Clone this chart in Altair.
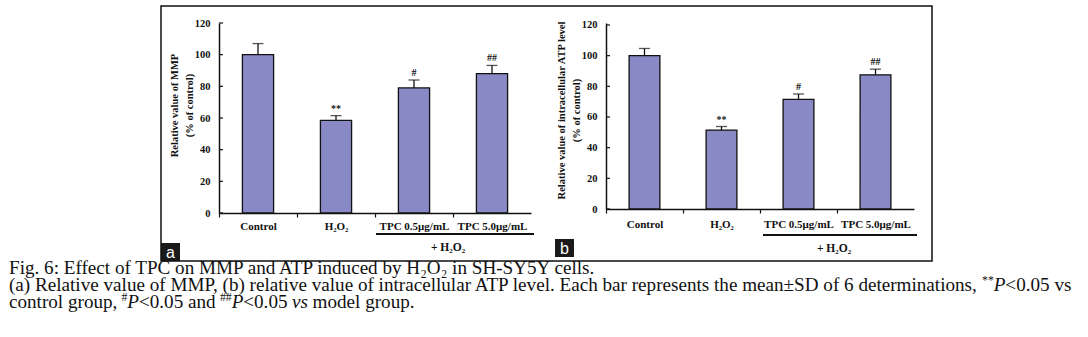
import altair as alt
import pandas as pd

# ---------------- data ----------------
categories = ["Control", "H₂O₂", "TPC 0.5μg/mL", "TPC 5.0μg/mL"]
mmp_mean = [100, 58.5, 79, 88]
mmp_sd = [7, 3, 5, 5.2]
atp_mean = [100, 51.5, 71.5, 87.5]
atp_sd = [4.7, 2.3, 3.5, 3.7]
sig_marks = ["", "**", "#", "##"]
y_ticks = [0, 20, 40, 60, 80, 100, 120]

caption_line1 = "Fig. 6: Effect of TPC on MMP and ATP induced by H₂O₂ in SH-SY5Y cells."
caption_line2 = [
    ("(a) Relative value of MMP, (b) relative value of intracellular ATP level. "
     "Each bar represents the mean±SD of 6 determinations, ", "normal"),
    ("**", "sup"), ("P", "italic"), ("<0.05 vs", "normal")]
caption_line3 = [
    ("control group, ", "normal"), ("#", "sup"), ("P", "italic"),
    ("<0.05 and ", "normal"), ("##", "sup"), ("P", "italic"),
    ("<0.05 ", "normal"), ("vs", "italic"), (" model group.", "normal")]

# ---------------- style ----------------
SERIF = "Liberation Serif"
SANS = "Liberation Sans"
BAR = "#8989C5"
INK = "#111111"

# Times-compatible advance widths (per 1000 em) used to place caption pieces
TR = {' ': 250, '!': 333, '#': 500, '(': 333, ')': 333, '*': 500, '+': 564, ',': 250,
      '-': 333, '.': 250, '/': 278, ':': 278, ';': 278, '<': 564, '=': 564, '>': 564,
      '±': 564}
for d in "0123456789":
    TR[d] = 500
TR.update(dict(zip("ABCDEFGHIJKLMNOPQRSTUVWXYZ",
                   [722, 667, 667, 722, 611, 556, 722, 722, 333, 389, 722, 611, 889,
                    722, 722, 556, 722, 667, 556, 611, 722, 722, 944, 722, 722, 611])))
TR.update(dict(zip("abcdefghijklmnopqrstuvwxyz",
                   [444, 500, 444, 500, 444, 333, 500, 500, 278, 278, 500, 278, 778,
                    500, 500, 500, 500, 333, 389, 278, 500, 500, 722, 500, 500, 444])))
TI = dict(TR)
TI.update({'P': 611, 'v': 444, 's': 389})
FUDGE = 0.993  # rendered width / nominal width

ONE = pd.DataFrame({"k": [0]})


def units(s, table):
    return sum(table.get(c, 500) for c in s) * FUDGE


def piece(s, x, y, size, style="normal", weight="normal", color=INK,
          align="left", baseline="alphabetic", font=SERIF):
    return alt.Chart(ONE).mark_text(
        text=s, font=font, fontSize=size, fontStyle=style, fontWeight=weight,
        color=color, align=align, baseline=baseline
    ).encode(x=alt.value(x), y=alt.value(y))


# caption sizing: line 2 spans the figure width
CAP_X0 = -210
SUP = 0.62
line2_units = 0
for s, kind in caption_line2:
    if kind == "sup":
        line2_units += units(s, TR) * SUP
    elif kind == "italic":
        line2_units += units(s, TI)
    else:
        line2_units += units(s, TR)
CAP_FS = 1062 * 1000 / line2_units


def caption_line(parts, y):
    out = []
    x = CAP_X0
    for s, kind in parts:
        table = TI if kind == "italic" else TR
        size = CAP_FS * SUP if kind == "sup" else CAP_FS
        lead = s[: len(s) - len(s.lstrip(" "))]
        x += units(lead, table) * size / 1000
        body = s.lstrip(" ")
        yy = y - CAP_FS * 0.38 if kind == "sup" else y
        style = "italic" if kind == "italic" else "normal"
        if body:
            out.append(piece(body, x, yy, size, style=style))
        x += units(body, table) * size / 1000
    return out


def panel(means, sds, ydomain, width, height, ytitle, title_y, xlabel_pad,
          letter, box_x, under_y, plus_x, plus_y):
    df = pd.DataFrame({
        "cat": categories,
        "mean": means,
        "upper": [m + s for m, s in zip(means, sds)],
        "sig": sig_marks,
    })
    step = width / len(categories)
    xscale = alt.Scale(domain=categories, paddingInner=0.6, paddingOuter=0.3)
    yscale = alt.Scale(domain=ydomain, nice=False, zero=True)
    xaxis = alt.Axis(
        title=None, labelAngle=0, labelFont=SERIF, labelFontSize=11,
        labelFontWeight="bold", labelColor=INK, labelPadding=xlabel_pad,
        domainColor=INK, domainWidth=1.5, tickColor=INK, tickSize=4,
        tickWidth=1.2, bandPosition=0.5, tickOffset=-step / 2,
        labelOffset=step / 2, grid=False)
    yaxis = alt.Axis(
        title=ytitle, values=y_ticks, titleFont=SERIF, titleFontSize=10.5,
        titleFontWeight="bold", titleColor=INK, titleX=-44.5, titleY=title_y,
        titleBaseline="middle", titleAlign="center", titleLineHeight=15,
        labelFont=SERIF, labelFontSize=10.5, labelFontWeight="bold",
        labelColor=INK, labelPadding=9, tickSize=0, domainColor=INK,
        domainWidth=1.5, grid=False)
    X = alt.X("cat:N", scale=xscale, axis=xaxis, sort=categories)
    base = alt.Chart(df)
    bars = base.mark_bar(fill=BAR, stroke=INK, strokeWidth=1.3).encode(
        x=X, y=alt.Y("mean:Q", scale=yscale, axis=yaxis))
    err = base.mark_rule(color=INK, strokeWidth=1.3).encode(
        x=X, y=alt.Y("mean:Q", scale=yscale, axis=yaxis), y2="upper:Q")
    caps = base.mark_tick(color=INK, thickness=1.3, size=11, orient="horizontal").encode(
        x=X, y=alt.Y("upper:Q", scale=yscale, axis=yaxis))
    stars = base.mark_text(font=SERIF, fontSize=10, fontWeight="bold", color=INK,
                           baseline="bottom", dy=-2).encode(
        x=X, y=alt.Y("upper:Q", scale=yscale, axis=yaxis), text="sig:N")
    ticks = alt.Chart(pd.DataFrame({"v": y_ticks})).mark_rule(
        color=INK, strokeWidth=1.2).encode(
        y=alt.Y("v:Q", scale=yscale, axis=yaxis), x=alt.value(0), x2=alt.value(4))
    under = alt.Chart(ONE).mark_rule(color=INK, strokeWidth=2.2).encode(
        x=alt.value(157), x2=alt.value(width + 3), y=alt.value(under_y))
    plus = piece("+ H₂O₂", plus_x, plus_y, 11.5, weight="bold", align="center",
                 baseline="middle")
    box = alt.Chart(ONE).mark_rect(color="#1a1a1a").encode(
        x=alt.value(box_x), x2=alt.value(box_x + 19), y=alt.value(height + 30),
        y2=alt.value(height + 48))
    let = piece(letter, box_x + 9.5, height + 39.5, 16, color="white", align="center",
                baseline="middle", font=SANS)
    return [bars, err, caps, stars, ticks, under, plus, box, let]


layers_a = panel(mmp_mean, mmp_sd, [0, 120], 312, 190,
                 ["Relative value of MMP", "(% of control)"], 82, 3,
                 "a", -58, 211, 229, 225)
frame = alt.Chart(ONE).mark_rect(fillOpacity=0, stroke=INK, strokeWidth=1.5).encode(
    x=alt.value(-58), x2=alt.value(713), y=alt.value(-17), y2=alt.value(238))
anchor = alt.Chart(ONE).mark_rule(color="white", strokeWidth=0.1).encode(
    x=alt.value(-218), x2=alt.value(860), y=alt.value(-22))
cap = [piece(caption_line1, CAP_X0, 251, CAP_FS)]
cap += caption_line(caption_line2, 268)
cap += caption_line(caption_line3, 285)
panel_a = alt.layer(*layers_a, frame, anchor, *cap).properties(width=312, height=190)

layers_b = panel(atp_mean, atp_sd, [0, 121.3], 308, 186,
                 ["Relative value of intracellular ATP level", "(% of control)"],
                 87, 5, "b", -51, 212, 228, 226)
panel_b = alt.layer(*layers_b).properties(width=308, height=186)

chart = alt.hconcat(panel_a, panel_b, spacing=75, bounds="flush").properties(
    padding=0
).configure_view(stroke="transparent")

chart.save("out.html", embed_options={"renderer": "svg", "actions": False})
